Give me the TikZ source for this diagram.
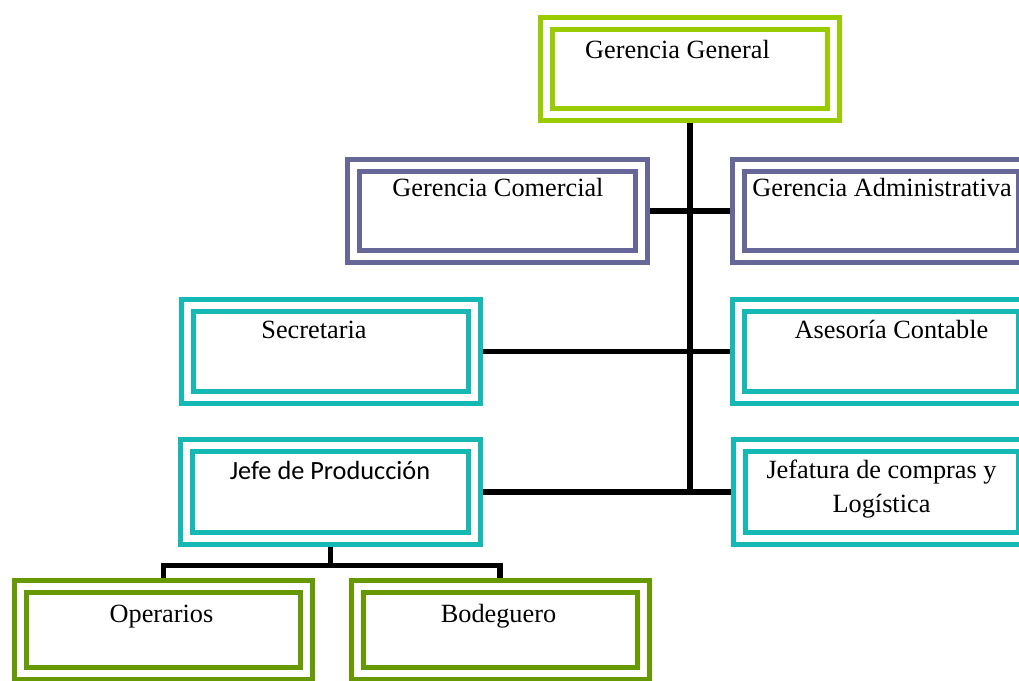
\documentclass[tikz,border=0pt]{standalone}
\usepackage{fontspec}
\setmainfont{Liberation Serif}
\newfontfamily\calibrilike{Carlito}
\usetikzlibrary{backgrounds}

\definecolor{framelime}{HTML}{99CC00}
\definecolor{frameslate}{HTML}{666699}
\definecolor{frameteal}{HTML}{14B8B4}
\definecolor{frameolive}{HTML}{669900}

\tikzset{
  unitbox/.style={draw=#1, line width=5, double=white, double distance=7,
    inner sep=0, minimum width=288, minimum height=91},
  caption/.style={inner sep=0, anchor=base, font=\fontsize{26.3}{34}\selectfont},
  sanscaption/.style={caption, font=\calibrilike\fontsize{26.3}{34}\selectfont},
  link/.style={draw=black, line width=5.5},
}

\begin{document}
\begin{tikzpicture}[x=1pt, y=-1pt]
  \useasboundingbox (0,0) rectangle (1019,680);
  \clip (0,0) rectangle (1019,680);

  % frames
  \node[unitbox=framelime, minimum width=287] (gg) at (690,69) {};
  \node[unitbox=frameslate] (gc) at (497.5,211) {};
  \node[unitbox=frameslate, minimum width=286] (ga) at (881.5,211) {};
  \node[unitbox=frameteal, minimum width=287, minimum height=92] (se) at (331,351.5) {};
  \node[unitbox=frameteal, minimum width=286, minimum height=92] (ac) at (881.5,351.5) {};
  \node[unitbox=frameteal, minimum height=93] (jp) at (330.5,492) {};
  \node[unitbox=frameteal, minimum width=285, minimum height=93] (jc) at (882,492) {};
  \node[unitbox=frameolive, minimum width=286, minimum height=87] (op) at (163.5,630) {};
  \node[unitbox=frameolive, minimum width=286, minimum height=87] (bo) at (500,630) {};

  % captions
  \node[caption] (gg-t) at (677.5,58) {Gerencia General};
  \node[caption] (gc-t) at (498,196.5) {Gerencia Comercial};
  \node[caption] (ga-t) at (882,196.5) {Gerencia Administrativa};
  \node[caption] (se-t) at (314,338) {Secretaria};
  \node[caption] (ac-t) at (891.5,338) {Asesoría Contable};
  \node[sanscaption] (jp-t) at (330,479) {Jefe de Producción};
  \node[caption, anchor=north, align=center] (jc-t) at (881.5,460)
    {Jefatura de compras y\\Logística};
  \node[caption] (op-t) at (161.5,622) {Operarios};
  \node[caption] (bo-t) at (498.5,622) {Bodeguero};

  % reporting lines
  \begin{scope}[on background layer]
    \draw[link] (gg.south) -- (gg.south |- jc.west);
    \draw[link] (gc.east) -- (ga.west);
    \draw[link] (se.east) -- (ac.west);
    \draw[link] (jp.east) -- (jc.west);
    \draw[link] (jp.south) -- ++(0,24.5) coordinate (split);
    \draw[link] (op.north) |- (split) -| (bo.north);
  \end{scope}
\end{tikzpicture}
\end{document}
